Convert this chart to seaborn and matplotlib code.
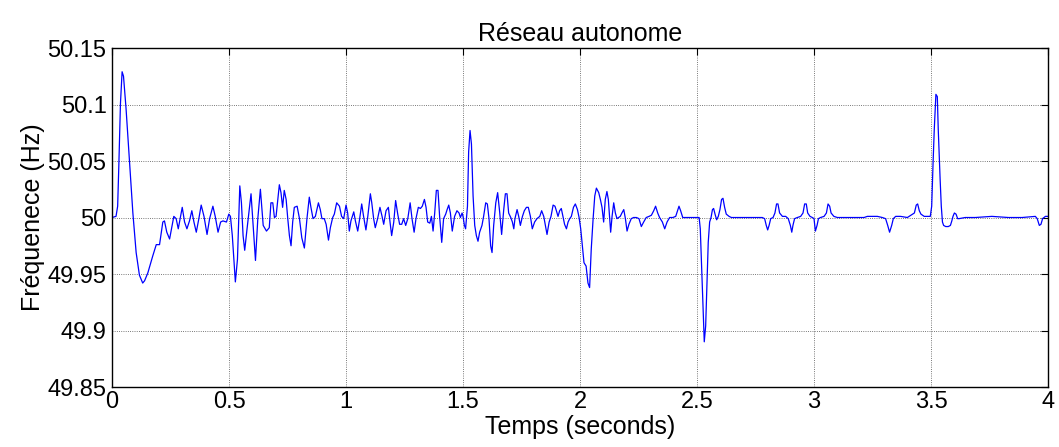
import numpy as np
import pandas as pd
import matplotlib
matplotlib.use("Agg")
import matplotlib.pyplot as plt
import seaborn as sns

# ---- data (time in s, frequency in Hz) ----
t_seg1 = [0.000, 0.017, 0.024, 0.029, 0.036, 0.043, 0.049, 0.060, 0.074, 0.089,
          0.103, 0.117, 0.131, 0.139, 0.153, 0.174, 0.189, 0.203, 0.217, 0.224,
          0.234, 0.246, 0.254, 0.264, 0.274, 0.283, 0.291, 0.300, 0.310, 0.320,
          0.331, 0.341, 0.350, 0.360, 0.371, 0.381, 0.393, 0.406, 0.417, 0.431,
          0.441, 0.453, 0.464, 0.474, 0.489, 0.499, 0.506, 0.514, 0.527, 0.536,
          0.546, 0.553, 0.560, 0.567, 0.577, 0.594, 0.603, 0.613, 0.623, 0.634,
          0.646, 0.660]
f_seg1 = [50.000, 50.001, 50.010, 50.046, 50.101, 50.129, 50.125, 50.096, 50.051, 50.004,
          49.969, 49.949, 49.942, 49.944, 49.951, 49.966, 49.976, 49.976, 49.996, 49.997,
          49.987, 49.981, 49.990, 50.001, 49.999, 49.990, 49.999, 50.009, 49.996, 49.990,
          49.997, 50.006, 49.996, 49.987, 49.999, 50.011, 50.001, 49.985, 49.999, 50.010,
          50.001, 49.987, 49.996, 49.997, 49.996, 50.003, 50.001, 49.984, 49.943, 49.963,
          50.028, 50.013, 49.984, 49.971, 49.990, 50.021, 49.993, 49.962, 49.999, 50.025,
          49.993, 49.988]

t_seg2 = [0.672, 0.679, 0.687, 0.694, 0.701, 0.708, 0.715, 0.722, 0.729, 0.736,
          0.744, 0.751, 0.758, 0.765, 0.772, 0.779, 0.791, 0.801, 0.811, 0.822,
          0.833, 0.843, 0.850, 0.859, 0.869, 0.882, 0.890, 0.897, 0.907, 0.915,
          0.925, 0.933, 0.943, 0.950, 0.960, 0.972, 0.981, 0.990, 1.000, 1.007,
          1.014, 1.021, 1.033, 1.040, 1.050, 1.057, 1.067, 1.075, 1.085, 1.093,
          1.104, 1.110, 1.118, 1.125, 1.135, 1.145, 1.154, 1.161, 1.171, 1.181,
          1.188, 1.195, 1.204, 1.212, 1.221, 1.229, 1.238, 1.246, 1.255, 1.264,
          1.274, 1.282, 1.291, 1.299, 1.309, 1.318, 1.326, 1.335, 1.342, 1.349,
          1.358]
f_seg2 = [49.991, 50.013, 50.013, 50.000, 50.001, 50.015, 50.029, 50.022, 50.009, 50.024,
          50.016, 49.999, 49.984, 49.975, 49.996, 50.009, 50.010, 49.999, 49.982, 49.973,
          49.999, 50.018, 50.009, 49.999, 50.001, 50.013, 50.007, 49.999, 49.999, 49.994,
          49.980, 49.991, 50.000, 50.003, 50.013, 50.010, 50.001, 49.999, 50.011, 50.004,
          49.988, 49.997, 50.005, 49.997, 49.988, 49.997, 50.012, 50.001, 49.989, 50.001,
          50.021, 50.013, 49.999, 49.991, 49.999, 50.009, 50.001, 49.994, 50.006, 50.009,
          49.996, 49.984, 49.996, 50.015, 50.003, 49.994, 49.994, 49.999, 49.993, 49.999,
          50.013, 49.999, 49.987, 49.999, 50.009, 50.008, 50.010, 50.016, 50.009, 49.996,
          49.995]

t_seg3 = [1.365, 1.372, 1.379, 1.386, 1.393, 1.400, 1.409, 1.417, 1.426, 1.432,
          1.439, 1.446, 1.454, 1.464, 1.474, 1.483, 1.489, 1.496, 1.500, 1.506,
          1.511, 1.519, 1.524, 1.530, 1.536, 1.543, 1.550, 1.557, 1.564, 1.571,
          1.581, 1.588, 1.597, 1.604, 1.611, 1.618, 1.624, 1.631, 1.640, 1.648,
          1.657, 1.665, 1.674, 1.681, 1.688, 1.695, 1.704, 1.711, 1.717, 1.722,
          1.731, 1.738, 1.745, 1.754, 1.762, 1.771, 1.779, 1.788, 1.796, 1.806,
          1.816, 1.828, 1.836, 1.845, 1.852, 1.859, 1.868, 1.876, 1.885, 1.893,
          1.899, 1.906, 1.913, 1.920, 1.927, 1.934, 1.942, 1.949, 1.956, 1.963,
          1.972, 1.980, 1.989, 1.996, 2.003, 2.010, 2.017, 2.026, 2.034, 2.041]
f_seg3 = [50.001, 49.988, 50.004, 50.024, 50.024, 50.001, 49.978, 49.999, 50.003, 50.007,
          50.011, 50.004, 49.988, 50.001, 50.006, 50.004, 50.000, 50.004, 50.001, 49.993,
          49.990, 50.010, 50.058, 50.077, 50.065, 50.019, 49.993, 49.984, 49.979, 49.987,
          49.993, 50.001, 50.013, 50.012, 49.999, 49.975, 49.969, 49.993, 50.013, 50.022,
          50.004, 49.985, 50.007, 50.021, 50.021, 50.004, 50.000, 49.996, 49.990, 49.999,
          50.007, 50.001, 49.993, 50.001, 50.006, 50.009, 50.009, 50.001, 49.990, 49.996,
          49.999, 50.001, 50.006, 50.001, 49.993, 49.985, 49.996, 50.001, 50.011, 50.010,
          50.006, 50.001, 50.006, 50.008, 50.001, 49.994, 49.990, 49.996, 49.999, 50.001,
          50.009, 50.012, 50.007, 50.000, 49.990, 49.975, 49.960, 49.957, 49.942, 49.938]

t_seg4 = [2.048, 2.056, 2.063, 2.070, 2.080, 2.087, 2.094, 2.101, 2.108, 2.115,
          2.121, 2.127, 2.131, 2.137, 2.144, 2.151, 2.158, 2.165, 2.172, 2.179,
          2.187, 2.194, 2.201, 2.209, 2.219, 2.229, 2.241, 2.252, 2.262, 2.272,
          2.283, 2.295, 2.305, 2.315, 2.323, 2.332, 2.340, 2.352, 2.362, 2.372,
          2.383, 2.397, 2.409, 2.417, 2.423, 2.430, 2.439, 2.500, 2.509, 2.514,
          2.520, 2.526, 2.531, 2.537, 2.543, 2.548, 2.554, 2.560, 2.566, 2.571,
          2.577, 2.584, 2.591, 2.598, 2.605, 2.611, 2.618, 2.625, 2.637, 2.647]
f_seg4 = [49.972, 49.999, 50.019, 50.026, 50.022, 50.016, 50.009, 49.996, 50.016, 50.023,
          50.016, 49.999, 49.987, 50.001, 50.013, 50.004, 49.999, 50.000, 50.001, 50.004,
          50.007, 49.999, 49.988, 49.994, 49.999, 50.000, 50.000, 49.999, 49.992, 49.996,
          50.000, 50.001, 50.002, 50.006, 50.010, 50.004, 50.000, 49.996, 49.990, 49.996,
          50.000, 50.000, 50.001, 50.006, 50.010, 50.006, 50.000, 50.000, 50.000, 49.990,
          49.954, 49.918, 49.890, 49.904, 49.945, 49.978, 49.996, 50.000, 50.007, 50.008,
          50.003, 49.998, 50.001, 50.007, 50.016, 50.017, 50.009, 50.003, 50.001, 50.000]

t_seg5 = [2.779, 2.789, 2.796, 2.802, 2.808, 2.815, 2.825, 2.833, 2.840, 2.846,
          2.853, 2.865, 2.879, 2.890, 2.899, 2.905, 2.910, 2.917, 2.929, 2.943,
          2.953, 2.960, 2.967, 2.973, 2.983, 2.993, 3.000, 3.006, 3.013, 3.019,
          3.028, 3.043, 3.053, 3.060, 3.067, 3.073, 3.085, 3.100, 3.150, 3.214,
          3.228, 3.249, 3.271, 3.292, 3.306, 3.315, 3.323, 3.332, 3.339, 3.349,
          3.370, 3.399]
f_seg5 = [50.000, 49.999, 49.993, 49.989, 49.993, 49.999, 50.000, 50.004, 50.012, 50.012,
          50.004, 50.001, 50.001, 49.999, 49.993, 49.987, 49.993, 49.999, 50.000, 50.001,
          50.004, 50.012, 50.012, 50.004, 50.001, 50.000, 49.999, 49.988, 49.993, 49.999,
          50.000, 50.001, 50.004, 50.012, 50.010, 50.004, 50.001, 50.000, 50.000, 50.000,
          50.001, 50.001, 50.001, 50.000, 49.999, 49.993, 49.987, 49.993, 49.999, 50.001,
          50.001, 50.000]

t_seg6 = [3.429, 3.437, 3.443, 3.450, 3.457, 3.471, 3.491, 3.497, 3.503, 3.509,
          3.514, 3.521, 3.527, 3.531, 3.539, 3.544, 3.549, 3.554, 3.563, 3.574,
          3.583, 3.589, 3.594, 3.600, 3.607, 3.614, 3.620, 3.646, 3.689, 3.760,
          3.831, 3.889, 3.946, 3.954, 3.963, 3.970, 3.977, 3.989, 4.000]
f_seg6 = [50.004, 50.011, 50.012, 50.006, 50.003, 50.001, 50.001, 50.001, 50.010, 50.049,
          50.078, 50.109, 50.107, 50.078, 50.034, 50.010, 49.996, 49.993, 49.992, 49.992,
          49.993, 49.997, 50.001, 50.004, 50.003, 49.999, 49.999, 50.000, 50.000, 50.001,
          50.000, 50.000, 50.001, 49.999, 49.993, 49.994, 49.999, 50.001, 50.001]

x_ticks = [0, 0.5, 1, 1.5, 2, 2.5, 3, 3.5, 4]
x_tick_labels = ["0", "0.5", "1", "1.5", "2", "2.5", "3", "3.5", "4"]
y_ticks = [49.85, 49.9, 49.95, 50, 50.05, 50.1, 50.15]
y_tick_labels = ["49.85", "49.9", "49.95", "50", "50.05", "50.1", "50.15"]

title_text = "Réseau autonome"
x_label = "Temps (seconds)"
y_label = "Fréquenece (Hz)"

# ---- build table ----
time_all = t_seg1 + t_seg2 + t_seg3 + t_seg4 + t_seg5 + t_seg6
freq_all = f_seg1 + f_seg2 + f_seg3 + f_seg4 + f_seg5 + f_seg6
df = pd.DataFrame({"t": time_all, "f": freq_all})

sns.set_style("white")
plt.rcParams["font.family"] = ["Liberation Sans", "DejaVu Sans"]
plt.rcParams["text.color"] = "black"
plt.rcParams["axes.labelcolor"] = "black"

fig = plt.figure(figsize=(10.59, 4.47), dpi=100)
ax = fig.add_axes([0.1058, 0.1342, 0.9896 - 0.1058, 0.8926 - 0.1342])

sns.lineplot(data=df, x="t", y="f", ax=ax, color="#0000ff", linewidth=0.9,
             sort=False, estimator=None)

ax.set_xlim(0, 4)
ax.set_ylim(49.85, 50.15)
ax.set_xticks(x_ticks)
ax.set_xticklabels(x_tick_labels)
ax.set_yticks(y_ticks)
ax.set_yticklabels(y_tick_labels)

ax.grid(True, linestyle=":", color="black", linewidth=0.6, alpha=0.7)
ax.tick_params(direction="in", length=5, width=0.8, top=True, right=True,
               labelsize=17, colors="black")
ax.tick_params(axis="x", pad=3)
ax.tick_params(axis="y", pad=4)
for s in ax.spines.values():
    s.set_visible(True)
    s.set_color("black")
    s.set_linewidth(1.0)

ax.set_title(title_text, fontsize=18, pad=5, color="black")
ax.set_xlabel(x_label, fontsize=18, labelpad=1)
ax.set_ylabel(y_label, fontsize=18, labelpad=2)

fig.savefig("out.png", dpi=100, facecolor="white")
